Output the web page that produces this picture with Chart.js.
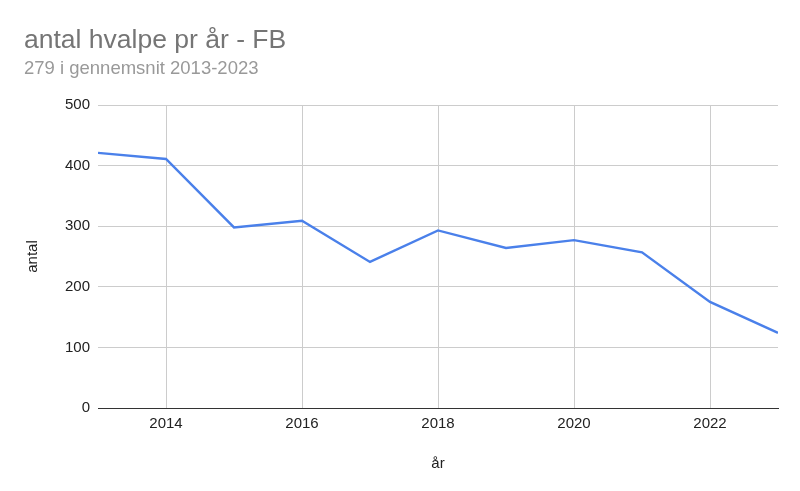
<!DOCTYPE html>
<html>
<head>
<meta charset="utf-8">
<script src="https://cdn.jsdelivr.net/npm/chart.js@4"></script>
<style>
  html, body { margin: 0; padding: 0; background: #fff; }
  #chart { display: block; }
</style>
</head>
<body>
<canvas id="chart" width="800" height="491"></canvas>
<script>
const years = [2013, 2014, 2015, 2016, 2017, 2018, 2019, 2020, 2021, 2022, 2023];
const puppies = [421, 411, 298, 309, 241, 293, 264, 277, 257, 175, 124];
const xTicks = [2014, 2016, 2018, 2020, 2022];
const yTicks = [0, 100, 200, 300, 400, 500];

const font = "Liberation Sans, Arial, sans-serif";

drawChart();

function drawChart(){
    const ctx = document.getElementById('chart').getContext('2d');
    new Chart(ctx, {
      type: 'line',
      data: {
        datasets: [{
          label: 'antal',
          data: years.map((y, i) => ({x: y, y: puppies[i]})),
          borderColor: '#4a80ea',
          borderWidth: 2.4,
          pointRadius: 0,
          fill: false,
          tension: 0
        }]
      },
      options: {
        responsive: false,
        animation: false,
        layout: { padding: { left: 24, top: 10, right: 22, bottom: 14 } },
        plugins: {
          legend: { display: false },
          tooltip: { enabled: false },
          title: {
            display: true,
            text: 'antal hvalpe pr år - FB',
            align: 'start',
            color: '#757575',
            font: { family: font, size: 26.5, weight: 'normal' },
            padding: { top: 15, bottom: 1 }
          },
          subtitle: {
            display: true,
            text: '279 i gennemsnit 2013-2023',
            align: 'start',
            color: '#999999',
            font: { family: font, size: 18.5 },
            padding: { top: 0, bottom: 25 }
          }
        },
        scales: {
          x: {
            type: 'linear',
            min: 2013,
            max: 2023,
            afterBuildTicks: axis => { axis.ticks = xTicks.map(v => ({value: v})); },
            afterFit: axis => { axis.height = 69; },
            grid: { color: '#cccccc', drawTicks: false },
            border: { display: true, color: '#333333', width: 1 },
            ticks: {
              padding: 7,
              color: '#222222',
              font: { family: font, size: 15 },
              maxRotation: 0,
              callback: v => String(v)
            },
            title: {
              display: true,
              text: 'år',
              color: '#222222',
              font: { family: font, size: 15 },
              padding: { top: 4, bottom: 4 }
            }
          },
          y: {
            min: 0,
            max: 500,
            afterBuildTicks: axis => { axis.ticks = yTicks.map(v => ({value: v})); },
            afterFit: axis => { axis.width = 74; },
            grid: {
              color: c => c.tick && c.tick.value === 0 ? '#333333' : '#cccccc',
              drawTicks: false
            },
            border: { display: false },
            ticks: {
              padding: 8,
              color: '#222222',
              font: { family: font, size: 15 }
            },
            title: {
              display: true,
              text: 'antal',
              color: '#222222',
              font: { family: font, size: 15 },
              padding: { top: 0, bottom: 4 }
            }
          }
        }
      }
    });
}
</script>
</body>
</html>
